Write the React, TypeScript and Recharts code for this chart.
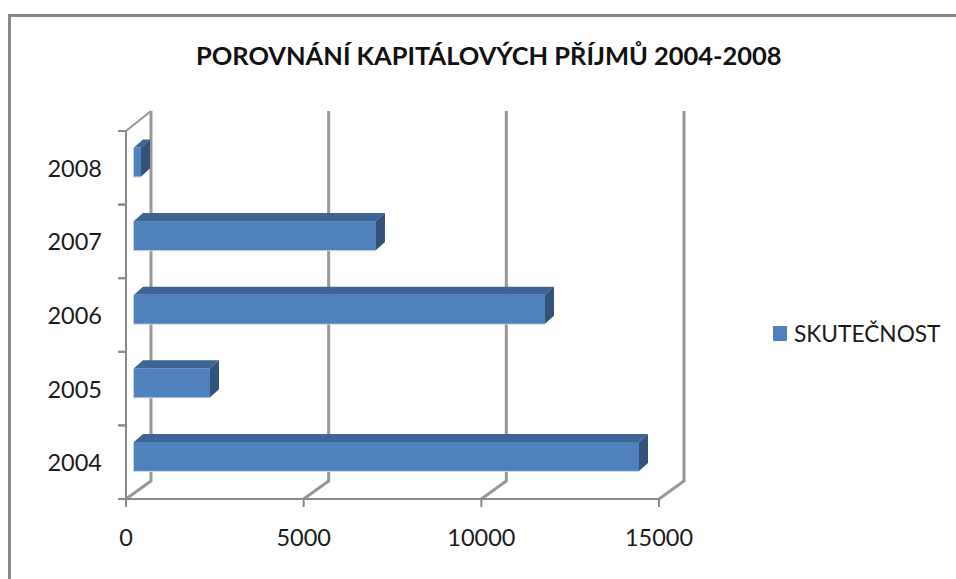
import { BarChart, Bar, XAxis, YAxis, CartesianGrid, Legend } from "recharts";

const years = ["2004", "2005", "2006", "2007", "2008"];
const skutecnost = [14212, 2139, 11566, 6810, 197];
const valueTicks = [0, 5000, 10000, 15000];
const seriesName = "SKUTEČNOST";
const chartTitle = "POROVNÁNÍ KAPITÁLOVÝCH PŘÍJMŮ 2004-2008";

const data = years.map((year, i) => ({ year, value: skutecnost[i] }));

const W = 956;
const H = 579;
const PLOT = { top: 131, bottom: 499, left: 126, right: 659 };
const BAND = (PLOT.bottom - PLOT.top) / years.length;
const FONT = "Lato, sans-serif";
const AXIS_GREY = "#8a8a8a";
const WALL_GREY = "#979797";

// the fake 3D: how far the back wall sits from the front plane
const WALL_DX = 25;
const WALL_DY = -18;
// bars float mid-depth, and have their own depth
const BAR_DX = 8;
const BAR_DY = -5.5;
const DEPTH_X = 9;
const DEPTH_Y = -8;

const Bar3D = (props: { x?: number; y?: number; width?: number; height?: number }) => {
  const { x = 0, y = 0, width = 0, height = 0 } = props;
  const l = x + BAR_DX;
  const t = y + BAR_DY;
  const r = l + width;
  const b = t + height;
  return (
    <g>
      <rect x={l - 1} y={t} width={width + 1} height={height + 1} fill="#c6d6ea" />
      <polygon
        points={`${l},${t} ${l + DEPTH_X},${t + DEPTH_Y} ${r + DEPTH_X},${t + DEPTH_Y} ${r},${t}`}
        fill="#3c6494"
      />
      <polygon
        points={`${r},${t} ${r + DEPTH_X},${t + DEPTH_Y} ${r + DEPTH_X},${b + DEPTH_Y} ${r},${b}`}
        fill="#32527a"
      />
      <rect x={l} y={t} width={width} height={height} fill="#4f81bd" />
    </g>
  );
};

const WallLine = (props: { x1?: number; index?: number }) => {
  const { x1 = 0, index = 0 } = props;
  return (
    <g fill="none">
      <polyline
        points={`${x1},${PLOT.bottom} ${x1 + WALL_DX},${PLOT.bottom + WALL_DY} ${x1 + WALL_DX},${PLOT.top - 2 + WALL_DY}`}
        stroke={WALL_GREY}
        strokeWidth={3}
      />
      {index === 0 && (
        <line
          x1={x1}
          y1={PLOT.top}
          x2={x1 + WALL_DX}
          y2={PLOT.top - 2 + WALL_DY}
          stroke={WALL_GREY}
          strokeWidth={2}
        />
      )}
    </g>
  );
};

const YearTick = (props: { y?: number; payload?: { value: string } }) => {
  const { y = 0, payload } = props;
  return (
    <g>
      <line x1={PLOT.left - 8} x2={PLOT.left} y1={y - BAND / 2} y2={y - BAND / 2} stroke={AXIS_GREY} strokeWidth={2} />
      <line x1={PLOT.left - 8} x2={PLOT.left} y1={y + BAND / 2} y2={y + BAND / 2} stroke={AXIS_GREY} strokeWidth={2} />
      <text x={102} y={y + 9} textAnchor="end" fontSize={23.5} fontFamily={FONT} fill="#1a1a1a">
        {payload?.value}
      </text>
    </g>
  );
};

const LegendBox = () => (
  <div style={{ position: "relative", width: 180, height: 30, fontFamily: FONT }}>
    <div style={{ position: "absolute", left: 0, top: 6, width: 14, height: 15, background: "#4f81bd" }} />
    <div style={{ position: "absolute", left: 21, top: 0, fontSize: 22.7, lineHeight: "28px", color: "#1a1a1a", whiteSpace: "nowrap" }}>
      {seriesName}
    </div>
  </div>
);

export default function App() {
  return (
    <div style={{ position: "absolute", left: 0, top: 0, width: W, height: H, overflow: "hidden", background: "#fff" }}>
      <div
        style={{
          position: "absolute",
          left: 8,
          top: 14,
          width: W,
          height: H,
          borderLeft: "3px solid #898989",
          borderTop: "3px solid #898989",
        }}
      />
      <div
        style={{
          position: "absolute",
          left: 196,
          top: 39,
          fontFamily: FONT,
          fontSize: 25.45,
          lineHeight: "32px",
          fontWeight: 700,
          color: "#111",
          whiteSpace: "nowrap",
        }}
      >
        {chartTitle}
      </div>
      <div style={{ position: "absolute", left: 0, top: 0 }}>
        <BarChart
          width={W}
          height={H}
          data={data}
          layout="vertical"
          barCategoryGap={0}
          margin={{ top: PLOT.top, right: W - PLOT.right, bottom: 0, left: 0 }}
        >
          <CartesianGrid horizontal={false} vertical={(p: any) => <WallLine key={p.key} {...p} />} />
          <XAxis
            type="number"
            dataKey="value"
            domain={[0, 15000]}
            ticks={valueTicks}
            interval={0}
            height={H - PLOT.bottom}
            axisLine={{ stroke: AXIS_GREY, strokeWidth: 2 }}
            tickLine={{ stroke: AXIS_GREY, strokeWidth: 2 }}
            tickSize={8}
            tickMargin={22}
            tick={{ fontSize: 23.5, fontFamily: FONT, fill: "#1a1a1a" }}
          />
          <YAxis
            type="category"
            dataKey="year"
            reversed
            width={PLOT.left}
            axisLine={{ stroke: AXIS_GREY, strokeWidth: 2 }}
            tickLine={false}
            interval={0}
            tick={(p: any) => <YearTick {...p} />}
          />
          <Legend
            verticalAlign="middle"
            content={() => <LegendBox />}
            wrapperStyle={{ position: "absolute", left: 773, top: 320, width: 180 }}
          />
          <Bar
            dataKey="value"
            name={seriesName}
            barSize={29}
            isAnimationActive={false}
            shape={(p: any) => <Bar3D {...p} />}
          />
        </BarChart>
      </div>
    </div>
  );
}
